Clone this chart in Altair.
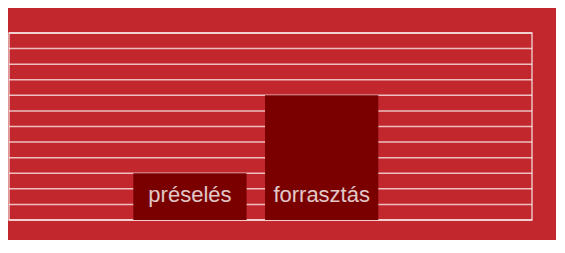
import altair as alt
import pandas as pd

categories = ["préselés", "forrasztás"]
values = [3, 8]
grid_values = list(range(0, 13))
x_domain = categories + [" "]  # trailing empty slot

df = pd.DataFrame({"cat": categories, "val": values})
df_grid = pd.DataFrame({"g": grid_values})

x_enc = alt.X(
    "cat:N",
    sort=categories,
    scale=alt.Scale(domain=x_domain, paddingInner=0.14, paddingOuter=0.555, align=0.85),
    axis=None,
)
y_scale = alt.Scale(domain=[0, 12], nice=False, zero=True)

grid = alt.Chart(df_grid).mark_rule(color="white", opacity=0.7, strokeWidth=1.5).encode(
    y=alt.Y("g:Q", scale=y_scale, axis=None),
)

bars = alt.Chart(df).mark_bar(color="#7a0000").encode(
    x=x_enc,
    y=alt.Y("val:Q", scale=y_scale, axis=None),
)

labels = alt.Chart(df).mark_text(
    baseline="alphabetic",
    dy=-18,
    fontSize=22,
    font="Liberation Sans",
    color="white",
    opacity=0.78,
).encode(
    x=x_enc,
    y=alt.datum(0),
    text="cat:N",
)

chart = (
    alt.layer(grid, bars, labels)
    .properties(
        width=523,
        height=187,
        padding={"left": 1, "top": 25, "right": 24, "bottom": 20},
        autosize=alt.AutoSizeParams(type="none"),
        background="#c1272d",
    )
    .configure_view(stroke="white", strokeOpacity=0.7, strokeWidth=1.5)
)

chart.save("out.html", embed_options={"renderer": "svg", "actions": False})
